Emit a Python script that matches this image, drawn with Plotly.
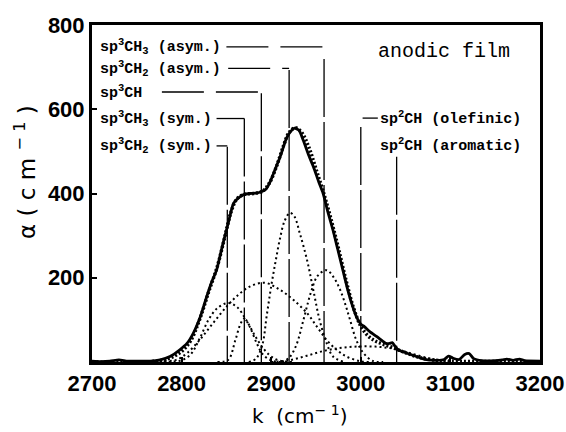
import plotly.graph_objects as go

# ---------------- data ----------------
meas_k = [2700, 2710, 2720, 2730, 2740, 2755, 2765, 2776, 2787, 2798, 2806, 2813, 2821, 2828,
          2834, 2839, 2846, 2852, 2858, 2865, 2870, 2876, 2883, 2889, 2894, 2898, 2904, 2910,
          2917, 2922, 2926, 2931, 2936, 2942, 2947, 2953, 2958, 2963, 2969, 2974, 2980, 2985,
          2990, 2995, 3000, 3004, 3010, 3018, 3024, 3028, 3032, 3035, 3038, 3042, 3050, 3058,
          3066, 3075, 3085, 3093, 3098, 3103, 3110, 3116, 3121, 3126, 3135, 3150, 3158, 3163,
          3170, 3177, 3183, 3200]
meas_a = [2, 1, 2, 5, 2, 2, 2, 5, 13, 29, 44, 68, 108, 155,
          192, 218, 280, 329, 377, 392, 398, 400, 401, 404, 410, 424, 455, 487,
          531, 548, 555, 550, 525, 490, 464, 428, 400, 358, 313, 270, 218, 175,
          138, 108, 90, 84, 72, 60, 50, 44, 44, 46, 38, 28, 22, 16,
          10, 5, 4, 6, 14, 9, 6, 18, 20, 8, 3, 3, 5, 7,
          4, 7, 3, 2]

fit_k = [2700, 2760, 2780, 2790, 2800, 2810, 2820, 2830, 2840, 2848, 2855, 2862, 2870, 2880,
         2890, 2898, 2906, 2914, 2920, 2927, 2934, 2942, 2950, 2958, 2966, 2975, 2984, 2992,
         3000, 3008, 3016, 3025, 3035, 3045, 3055, 3065, 3080, 3100, 3150, 3200]
fit_a = [0, 0, 5, 12, 25, 50, 100, 165, 228, 295, 355, 388, 398, 400,
         405, 425, 465, 515, 545, 556, 545, 510, 458, 405, 345, 270, 190, 128,
         85, 62, 50, 42, 35, 26, 18, 11, 5, 2, 1, 0]

# component bands
cA_k = [2780, 2790, 2800, 2810, 2820, 2830, 2840, 2852, 2862, 2872, 2882, 2892, 2902, 2912, 2925]
cA_a = [0, 1, 4, 18, 55, 100, 128, 140, 130, 100, 62, 30, 10, 2, 0]

cB_k = [2840, 2852, 2860, 2866, 2870, 2876, 2884, 2891, 2900, 2910]
cB_a = [0, 5, 52, 92, 103, 84, 44, 17, 4, 0]

cC_k = [2770, 2780, 2794, 2806, 2820, 2835, 2850, 2861, 2876, 2893, 2910, 2925, 2940, 2951,
        2962, 2973, 2984, 2999, 3010]
cC_a = [0, 2, 5, 21, 52, 92, 131, 155, 179, 188, 171, 147, 116, 84,
        52, 29, 13, 2, 0]

cD_k = [2875, 2883, 2890, 2895, 2900, 2905, 2910, 2915, 2921, 2926, 2932, 2940, 2947, 2954,
        2962, 2969, 2980]
cD_a = [0, 8, 40, 110, 180, 240, 295, 335, 354, 345, 305, 242, 171, 100,
        44, 13, 1]

cE_k = [2912, 2920, 2928, 2936, 2945, 2952, 2962, 2970, 2977, 2983, 2988, 2995, 3003, 3014, 3025]
cE_a = [0, 10, 40, 100, 170, 205, 218, 200, 171, 135, 100, 52, 21, 2, 0]

cF_k = [2900, 2920, 2940, 2960, 2980, 3000, 3020, 3040, 3060, 3080, 3100]
cF_a = [0, 4, 15, 27, 34, 37, 36, 30, 18, 7, 2]

# band assignments: label, wavenumber
band_labels = ["sp<sup>3</sup>CH<sub>3</sub> (asym.)",
               "sp<sup>3</sup>CH<sub>2</sub> (asym.)",
               "sp<sup>3</sup>CH",
               "sp<sup>3</sup>CH<sub>3</sub> (sym.)",
               "sp<sup>3</sup>CH<sub>2</sub> (sym.)"]
band_k = [2959, 2920, 2889, 2870, 2851]

sp2_labels = ["sp<sup>2</sup>CH (olefinic)", "sp<sup>2</sup>CH (aromatic)"]
sp2_k = [3000, 3040]

x_ticks = [2700, 2800, 2900, 3000, 3100, 3200]
y_ticks = [200, 400, 600, 800]

# ---------------- layout config (positions) ----------------
label_x = 2707
row_y = [748, 697, 641, 578, 513]
h_start = [2850, 2852, 2778, 2839, 2839]
v_top = [719, 693, 638, 578, 511]
sp2_row_y = [579, 515]
sp2_v_top = [558, 487]
sp2_text_x = 3019

fig = go.Figure()

comp_style = dict(color="black", width=2, dash="2px,3px")
for kk, aa in [(cA_k, cA_a), (cB_k, cB_a), (cC_k, cC_a), (cD_k, cD_a), (cE_k, cE_a), (cF_k, cF_a)]:
    fig.add_trace(go.Scatter(x=kk, y=aa, mode="lines", line=dict(shape="spline", **comp_style),
                             showlegend=False, hoverinfo="skip"))

# connector lines
hconn = dict(color="black", width=1.3, dash="42px,12px")
vconn = dict(color="black", width=1.3, dash="58px,5px")
for i, k in enumerate(band_k):
    fig.add_trace(go.Scatter(x=[h_start[i], k], y=[row_y[i], row_y[i]],
                             mode="lines", line=hconn, showlegend=False, hoverinfo="skip"))
    fig.add_trace(go.Scatter(x=[k, k], y=[v_top[i], 0],
                             mode="lines", line=vconn, showlegend=False, hoverinfo="skip"))
# olefinic
fig.add_trace(go.Scatter(x=[sp2_k[0] + 2, sp2_text_x], y=[sp2_row_y[0], sp2_row_y[0]],
                         mode="lines", line=hconn, showlegend=False, hoverinfo="skip"))
for i, k in enumerate(sp2_k):
    fig.add_trace(go.Scatter(x=[k, k], y=[sp2_v_top[i], 0],
                             mode="lines", line=vconn, showlegend=False, hoverinfo="skip"))

# fit (dotted thick)
fig.add_trace(go.Scatter(x=fit_k, y=fit_a, mode="lines",
                         line=dict(color="black", width=3.5, dash="2px,2px", shape="spline"),
                         showlegend=False, hoverinfo="skip"))
# measured
fig.add_trace(go.Scatter(x=meas_k, y=meas_a, mode="lines",
                         line=dict(color="black", width=2.8, shape="spline", smoothing=0.6),
                         showlegend=False, hoverinfo="skip"))

lab_font = dict(family="Liberation Mono", size=15, color="black")
ann = []
for i, t in enumerate(band_labels):
    ann.append(dict(x=label_x, y=row_y[i], xref="x", yref="y", text="<b>" + t + "</b>",
                    showarrow=False, xanchor="left", yanchor="middle", font=lab_font))
for i, t in enumerate(sp2_labels):
    ann.append(dict(x=sp2_text_x, y=sp2_row_y[i], xref="x", yref="y", text="<b>" + t + "</b>",
                    showarrow=False, xanchor="left", yanchor="middle", font=lab_font))
ann.append(dict(x=3017, y=737, xref="x", yref="y", text="anodic film", showarrow=False,
                xanchor="left", yanchor="middle",
                font=dict(family="Liberation Mono", size=20, color="black")))
ann.append(dict(x=0.464, y=-0.157, xref="paper", yref="paper",
                text="k\u00a0\u00a0(cm<sup>\u2212\u00a01</sup>)", showarrow=False,
                xanchor="center", yanchor="middle",
                font=dict(family="DejaVu Sans", size=20, color="black")))
ann.append(dict(x=-0.1496, y=0.564, xref="paper", yref="paper", textangle=-90,
                text="α\u00a0(\u00a0c\u00a0m\u00a0<sup>\u2212\u00a01</sup>\u00a0)", showarrow=False,
                xanchor="center", yanchor="middle",
                font=dict(family="DejaVu Sans", size=23, color="black")))

tick_font = dict(family="Liberation Sans", size=22, color="black", weight="bold")
fig.update_layout(
    width=566, height=432,
    margin=dict(l=92, r=26, t=25, b=70, autoexpand=False),
    paper_bgcolor="white", plot_bgcolor="white",
    annotations=ann,
    xaxis=dict(range=[2700, 3200], tickvals=x_ticks, ticktext=[str(v) for v in x_ticks],
               ticks="inside", ticklen=5, tickwidth=2, tickcolor="black",
               showline=True, linecolor="black", linewidth=3, mirror=True,
               showgrid=False, zeroline=False, tickfont=tick_font,
               ticklabeloverflow="allow", automargin=False),
    yaxis=dict(range=[0, 800], tickvals=y_ticks, ticktext=[str(v) for v in y_ticks],
               ticks="inside", ticklen=5, tickwidth=2, tickcolor="black",
               showline=True, linecolor="black", linewidth=3, mirror=True,
               showgrid=False, zeroline=False, tickfont=tick_font, automargin=False),
)

fig.write_html("out.html")
